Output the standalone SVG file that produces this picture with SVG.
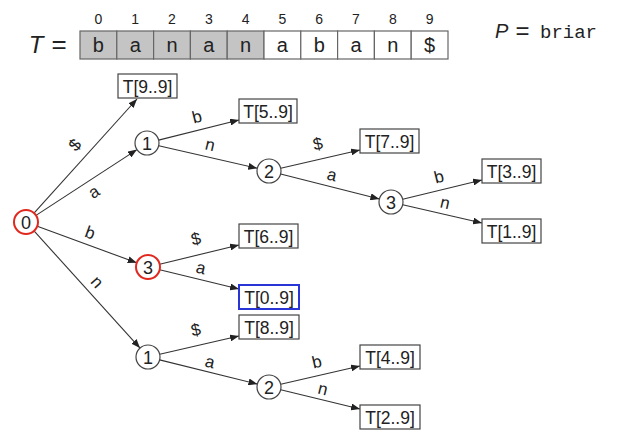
<svg xmlns="http://www.w3.org/2000/svg" width="624" height="442" viewBox="0 0 624 442">
<style>
.cell{stroke:#666;stroke-width:1.2}
.g{fill:#c4c4c4}
.w{fill:#fff}
.ct{font-family:"Liberation Sans",Arial,sans-serif;font-size:20px;fill:#222;text-anchor:middle}
.idx{font-family:"Liberation Sans",Arial,sans-serif;font-size:14px;fill:#222;text-anchor:middle}
.circ{fill:#fff;stroke:#444;stroke-width:1.2}
.red{stroke:#e0281e;stroke-width:2}
.nt{font-family:"Liberation Sans",Arial,sans-serif;font-size:18px;fill:#222;text-anchor:middle;dominant-baseline:central}
.box{fill:#fff;stroke:#444;stroke-width:1.2}
.blue{stroke:#2a35d8;stroke-width:2}
.bt{font-family:"Liberation Sans",Arial,sans-serif;font-size:17.5px;fill:#222;text-anchor:middle;dominant-baseline:central}
.edge{stroke:#333;stroke-width:1.1;fill:none;marker-end:url(#arr)}
.lbl{font-family:"Liberation Sans",Arial,sans-serif;font-size:17px;fill:#222;text-anchor:middle;dominant-baseline:central}
</style>
<defs>
<marker id="arr" markerUnits="userSpaceOnUse" markerWidth="9" markerHeight="7" refX="9" refY="3.5" orient="auto">
<path d="M0,0 L9,3.5 L0,7 Z" fill="#222"/>
</marker>
</defs>
<rect width="624" height="442" fill="#fff"/>
<g id="array">
<text x="36" y="53" style="font-family:'Liberation Sans',Arial,sans-serif;font-size:24px;font-style:italic;fill:#222" text-anchor="middle">T</text>
<text x="59" y="53" style="font-family:'Liberation Sans',Arial,sans-serif;font-size:26px;fill:#222" text-anchor="middle">=</text>
<rect class="cell g" x="80" y="31" width="36.8" height="28"/>
<rect class="cell g" x="116.8" y="31" width="36.8" height="28"/>
<rect class="cell g" x="153.6" y="31" width="36.8" height="28"/>
<rect class="cell g" x="190.4" y="31" width="36.8" height="28"/>
<rect class="cell g" x="227.2" y="31" width="36.8" height="28"/>
<rect class="cell w" x="264" y="31" width="36.8" height="28"/>
<rect class="cell w" x="300.8" y="31" width="36.8" height="28"/>
<rect class="cell w" x="337.6" y="31" width="36.8" height="28"/>
<rect class="cell w" x="374.4" y="31" width="36.8" height="28"/>
<rect class="cell w" x="411.2" y="31" width="36.8" height="28"/>
<text class="ct" x="98.4" y="52">b</text>
<text class="ct" x="135.2" y="52">a</text>
<text class="ct" x="172" y="52">n</text>
<text class="ct" x="208.8" y="52">a</text>
<text class="ct" x="245.6" y="52">n</text>
<text class="ct" x="282.4" y="52">a</text>
<text class="ct" x="319.2" y="52">b</text>
<text class="ct" x="356" y="52">a</text>
<text class="ct" x="392.8" y="52">n</text>
<text class="ct" x="429.6" y="52">$</text>
<text class="idx" x="98.4" y="24">0</text>
<text class="idx" x="135.2" y="24">1</text>
<text class="idx" x="172" y="24">2</text>
<text class="idx" x="208.8" y="24">3</text>
<text class="idx" x="245.6" y="24">4</text>
<text class="idx" x="282.4" y="24">5</text>
<text class="idx" x="319.2" y="24">6</text>
<text class="idx" x="356" y="24">7</text>
<text class="idx" x="392.8" y="24">8</text>
<text class="idx" x="429.6" y="24">9</text>
</g>
<g id="pattern">
<text x="495" y="38" style="font-family:'Liberation Sans',Arial,sans-serif;font-size:20px;font-style:italic;fill:#222">P</text>
<text x="522.5" y="39" style="font-family:'Liberation Sans',Arial,sans-serif;font-size:24px;fill:#222" text-anchor="middle">=</text>
<text x="540" y="38" style="font-family:'Liberation Mono','Courier New',monospace;font-size:19px;fill:#222">briar</text>
</g>
<g id="connectors">
<line class="edge" x1="34" y1="213.1" x2="137" y2="99"/>
<line class="edge" x1="36" y1="215.4" x2="137" y2="149.6"/>
<line class="edge" x1="37.3" y1="226.2" x2="136.7" y2="262.8"/>
<line class="edge" x1="34" y1="230.9" x2="140" y2="348.1"/>
<line class="edge" x1="158.6" y1="140.1" x2="239" y2="120"/>
<line class="edge" x1="158.7" y1="145.7" x2="257.3" y2="168.3"/>
<line class="edge" x1="280.7" y1="168.3" x2="360" y2="150"/>
<line class="edge" x1="280.6" y1="174" x2="379.4" y2="199"/>
<line class="edge" x1="402.7" y1="199.2" x2="482" y2="180"/>
<line class="edge" x1="402.7" y1="204.7" x2="482" y2="223"/>
<line class="edge" x1="159.7" y1="264.2" x2="239" y2="245"/>
<line class="edge" x1="159.7" y1="269.8" x2="239" y2="289"/>
<line class="edge" x1="159.7" y1="354.3" x2="239" y2="336"/>
<line class="edge" x1="159.6" y1="359.9" x2="257.4" y2="384.1"/>
<line class="edge" x1="280.7" y1="384.3" x2="360" y2="366"/>
<line class="edge" x1="280.7" y1="389.8" x2="360" y2="409"/>
<text class="lbl" transform="translate(75,145) rotate(-48)">$</text>
<text class="lbl" transform="translate(94,192) rotate(-33)">a</text>
<text class="lbl" transform="translate(90,233) rotate(20)">b</text>
<text class="lbl" transform="translate(97,282) rotate(48)">n</text>
<text class="lbl" transform="translate(197,117) rotate(-14)">b</text>
<text class="lbl" transform="translate(210,145) rotate(13)">n</text>
<text class="lbl" transform="translate(318,144) rotate(-13)">$</text>
<text class="lbl" transform="translate(332,175) rotate(14)">a</text>
<text class="lbl" transform="translate(439,177) rotate(-14)">b</text>
<text class="lbl" transform="translate(445,203) rotate(13)">n</text>
<text class="lbl" transform="translate(196,239) rotate(-14)">$</text>
<text class="lbl" transform="translate(201,268) rotate(14)">a</text>
<text class="lbl" transform="translate(196,330) rotate(-13)">$</text>
<text class="lbl" transform="translate(210,362) rotate(14)">a</text>
<text class="lbl" transform="translate(317,362) rotate(-13)">b</text>
<text class="lbl" transform="translate(323,389) rotate(14)">n</text>
</g>
<g id="n0"><circle class="circ red" cx="26" cy="222" r="12"/><text class="nt" x="26" y="223">0</text></g>
<g id="n1a"><circle class="circ" cx="147" cy="143" r="12"/><text class="nt" x="147" y="144">1</text></g>
<g id="n2a"><circle class="circ" cx="269" cy="171" r="12"/><text class="nt" x="269" y="172">2</text></g>
<g id="n3a"><circle class="circ" cx="391" cy="202" r="12"/><text class="nt" x="391" y="203">3</text></g>
<g id="n3b"><circle class="circ red" cx="148" cy="267" r="12"/><text class="nt" x="148" y="268">3</text></g>
<g id="n1b"><circle class="circ" cx="148" cy="357" r="12"/><text class="nt" x="148" y="358">1</text></g>
<g id="n2b"><circle class="circ" cx="269" cy="387" r="12"/><text class="nt" x="269" y="388">2</text></g>
<g id="l9"><rect class="box" x="118" y="74" width="59" height="24"/><text class="bt" x="147.5" y="86.5">T[9..9]</text></g>
<g id="l5"><rect class="box" x="239" y="99" width="58" height="24"/><text class="bt" x="268" y="111.5">T[5..9]</text></g>
<g id="l7"><rect class="box" x="360" y="129" width="59" height="24"/><text class="bt" x="389.5" y="141.5">T[7..9]</text></g>
<g id="l3"><rect class="box" x="482" y="159" width="59" height="24"/><text class="bt" x="511.5" y="171.5">T[3..9]</text></g>
<g id="l1"><rect class="box" x="482" y="219" width="59" height="24"/><text class="bt" x="511.5" y="231.5">T[1..9]</text></g>
<g id="l6"><rect class="box" x="239" y="224" width="59" height="24"/><text class="bt" x="268.5" y="236.5">T[6..9]</text></g>
<g id="l0"><rect class="box blue" x="239" y="285" width="60" height="24"/><text class="bt" x="269" y="297.5">T[0..9]</text></g>
<g id="l8"><rect class="box" x="239" y="315" width="60" height="24"/><text class="bt" x="269" y="327.5">T[8..9]</text></g>
<g id="l4"><rect class="box" x="360" y="345" width="60" height="24"/><text class="bt" x="390" y="357.5">T[4..9]</text></g>
<g id="l2"><rect class="box" x="360" y="405" width="60" height="24"/><text class="bt" x="390" y="417.5">T[2..9]</text></g>
</svg>
